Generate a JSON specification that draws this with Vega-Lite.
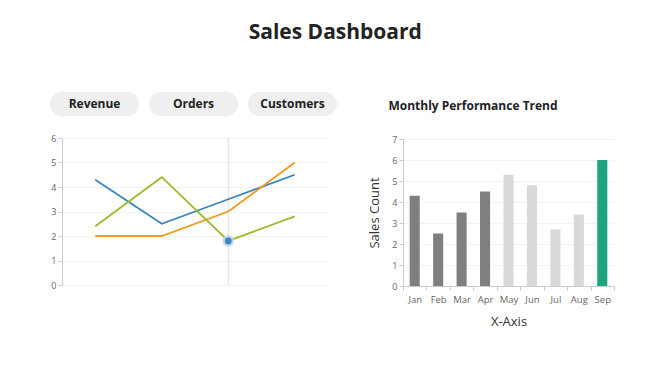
{
  "$schema": "https://vega.github.io/schema/vega-lite/v6.json",
  "background": "white",
  "padding": {"left": 50, "top": 22, "right": 10, "bottom": 10},
  "title": {"text": "Sales Dashboard", "fontSize": 21, "fontWeight": "bold", "color": "#222222", "anchor": "middle", "offset": 49, "dx": 3, "font": "Open Sans"},
  "config": {
    "view": {"stroke": null},
    "font": "Open Sans",
    "axis": {
      "domainColor": "#cccccc",
      "tickColor": "#cccccc",
      "tickSize": 4,
      "labelFontSize": 9,
      "labelColor": "#666666",
      "gridColor": "#f2f2f2",
      "titleFontSize": 13,
      "titleFontWeight": "normal",
      "titleColor": "#333333"
    }
  },
  "resolve": {"scale": {"color": "independent"}},
  "spacing": 31,
  "hconcat": [
    {
      "spacing": 18,
      "vconcat": [
        {
          "width": 266,
          "height": 24,
          "data": {"values": [{"label": "Revenue"}, {"label": "Orders"}, {"label": "Customers"}]},
          "encoding": {
            "x": {"field": "label", "type": "nominal", "sort": null, "axis": null, "scale": {"paddingInner": 0.1, "paddingOuter": 0, "range": [-12, 275]}}
          },
          "layer": [
            {"mark": {"type": "bar", "color": "#efefef", "cornerRadius": 12}},
            {"mark": {"type": "text", "fontSize": 12, "fontWeight": "bold", "color": "#222222"}, "encoding": {"text": {"field": "label"}}}
          ]
        },
        {
          "width": 266,
          "height": 147,
          "data": {"values": [
            {"period": "P1", "series": "A", "value": 4.3},
            {"period": "P2", "series": "A", "value": 2.5},
            {"period": "P3", "series": "A", "value": 3.5},
            {"period": "P4", "series": "A", "value": 4.5},
            {"period": "P1", "series": "B", "value": 2.0},
            {"period": "P2", "series": "B", "value": 2.0},
            {"period": "P3", "series": "B", "value": 3.0},
            {"period": "P4", "series": "B", "value": 5.0},
            {"period": "P1", "series": "C", "value": 2.4},
            {"period": "P2", "series": "C", "value": 4.4},
            {"period": "P3", "series": "C", "value": 1.8},
            {"period": "P4", "series": "C", "value": 2.8}
          ]},
          "encoding": {
            "x": {"field": "period", "type": "ordinal", "axis": null, "scale": {"type": "point", "padding": 0.5}}
          },
          "layer": [
            {
              "transform": [{"filter": "datum.series == 'C' && datum.period == 'P3'"}],
              "mark": {"type": "rule", "color": "#dddddd", "strokeWidth": 1},
              "encoding": {}
            },
            {
              "mark": {"type": "line", "strokeWidth": 1.8},
              "encoding": {
                "y": {"field": "value", "type": "quantitative", "scale": {"domain": [0, 6]}, "axis": {"title": null, "tickCount": 6, "grid": true}},
                "color": {"field": "series", "type": "nominal", "scale": {"domain": ["A", "B", "C"], "range": ["#3a87b9", "#f39a1e", "#9abb2e"]}, "legend": null}
              }
            },
            {
              "transform": [{"filter": "datum.series == 'C' && datum.period == 'P3'"}],
              "mark": {"type": "point", "filled": true, "size": 130, "color": "#b9d7ec", "opacity": 0.9},
              "encoding": {"y": {"field": "value", "type": "quantitative"}}
            },
            {
              "transform": [{"filter": "datum.series == 'C' && datum.period == 'P3'"}],
              "mark": {"type": "point", "filled": true, "size": 45, "color": "#3a87b9", "opacity": 1},
              "encoding": {"y": {"field": "value", "type": "quantitative"}}
            }
          ]
        }
      ]
    },
    {
      "spacing": 15,
      "vconcat": [
        {
          "width": 140,
          "height": 28,
          "data": {"values": [{"heading": "Monthly Performance Trend"}]},
          "mark": {"type": "text", "fontSize": 12, "fontWeight": "bold", "color": "#222222"},
          "encoding": {"text": {"field": "heading"}}
        },
        {
          "width": 211,
          "height": 147,
          "data": {"values": [
            {"month": "Jan", "sales": 4.3, "group": "past"},
            {"month": "Feb", "sales": 2.5, "group": "past"},
            {"month": "Mar", "sales": 3.5, "group": "past"},
            {"month": "Apr", "sales": 4.5, "group": "past"},
            {"month": "May", "sales": 5.3, "group": "future"},
            {"month": "Jun", "sales": 4.8, "group": "future"},
            {"month": "Jul", "sales": 2.7, "group": "future"},
            {"month": "Aug", "sales": 3.4, "group": "future"},
            {"month": "Sep", "sales": 6.0, "group": "current"}
          ]},
          "mark": {"type": "bar", "width": {"band": 0.43}},
          "encoding": {
            "x": {"field": "month", "type": "nominal", "sort": null, "scale": {"paddingInner": 0, "paddingOuter": 0}, "axis": {"title": "X-Axis", "labelAngle": 0, "tickBand": "extent", "labelPadding": 4, "titlePadding": 12, "labelFontSize": 9.5}},
            "y": {"field": "sales", "type": "quantitative", "scale": {"domain": [0, 7]}, "axis": {"title": "Sales Count", "tickCount": 7, "titlePadding": 10}},
            "color": {"field": "group", "type": "nominal", "scale": {"domain": ["past", "future", "current"], "range": ["#7f7f7f", "#d9d9d9", "#1ea380"]}, "legend": null}
          }
        }
      ]
    }
  ]
}
